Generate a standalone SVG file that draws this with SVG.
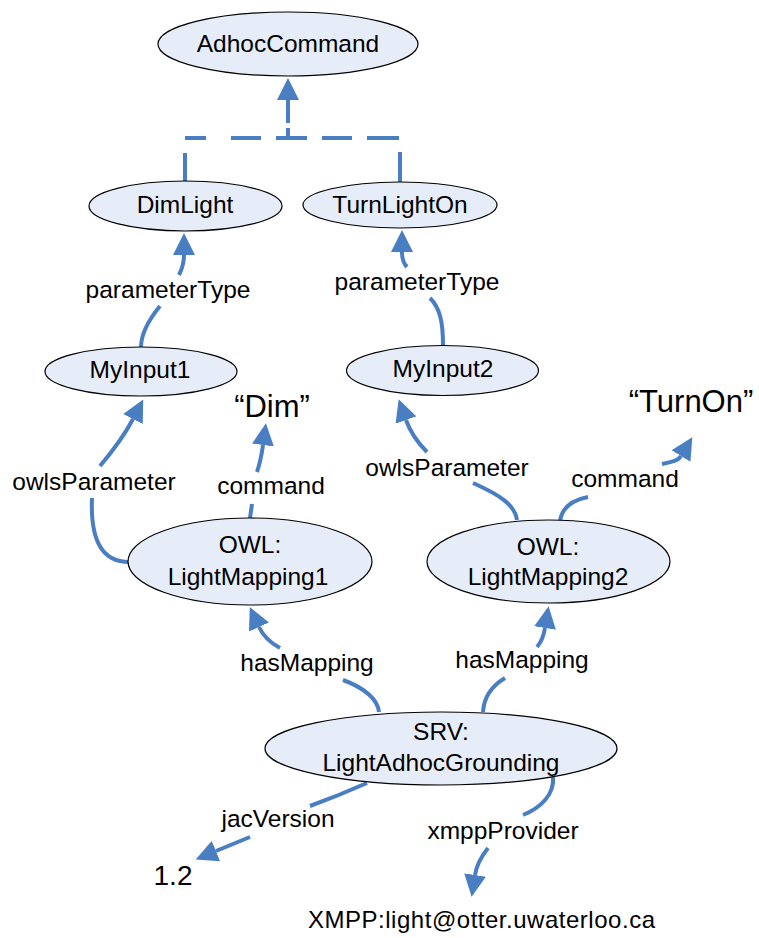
<svg xmlns="http://www.w3.org/2000/svg" width="759" height="938" viewBox="0 0 759 938">
<style>
.node ellipse{fill:#E7EDF8;stroke:#000;stroke-width:1.2}
text{font-family:"Liberation Sans",Arial,sans-serif;font-size:24.5px;fill:#000;text-anchor:middle}
.lit{font-size:31px}
.conn path{fill:none;stroke:#4A7EC2;stroke-width:4}
.arr{marker-end:url(#ah)}
</style>
<defs>
<marker id="ah" viewBox="0 0 22 22" refX="0" refY="11" markerWidth="22" markerHeight="22" markerUnits="userSpaceOnUse" orient="auto">
<path d="M0,0 L22,11 L0,22 z" fill="#4A7EC2"/>
</marker>
</defs>
<rect width="759" height="938" fill="#fff"/>
<g id="connectors" class="conn">
<path d="M185,183 V138 H400 V183" stroke-dasharray="30 15 21 25 30 15 31 15 30 15 32 15 30"/>
<path d="M288,138 V128"/>
<path class="arr" d="M288,123 V100"/>
<path class="arr" d="M179,275 Q184,265 184,255"/>
<path d="M160,306 C147,322 141,335 141,347"/>
<path class="arr" d="M407,267 Q402,262 402,252"/>
<path d="M430,298 C440,308 443,322 443,345"/>
<path class="arr" d="M100,466 Q122,440 133,419"/>
<path d="M92,498 C90,545 105,562 129,562"/>
<path class="arr" d="M257,472 Q261,460 263,445"/>
<path d="M250,518 L252,504"/>
<path class="arr" d="M427,452 Q412,437 406,420"/>
<path d="M473,483 C500,495 515,505 517,520"/>
<path d="M560,521 C562,508 572,500 588,497"/>
<path class="arr" d="M662,464 C672,462 678,461 681,456"/>
<path class="arr" d="M280,648 Q265,640 259,627"/>
<path d="M343,680 C365,688 378,700 379,712"/>
<path d="M483,712 C484,695 495,684 505,678"/>
<path class="arr" d="M537,647 Q543,640 545,628"/>
<path d="M367,783 Q340,795 310,806"/>
<path class="arr" d="M250,837 L216,851"/>
<path d="M553,776 C555,795 540,808 523,815"/>
<path class="arr" d="M488,848 Q477,862 475,875"/>
</g>
<g id="edge-labels">
<text x="168" y="298">parameterType</text>
<text x="417" y="290">parameterType</text>
<text x="94" y="490">owlsParameter</text>
<text x="447" y="476">owlsParameter</text>
<text x="271" y="494">command</text>
<text x="625" y="487">command</text>
<text x="307" y="671">hasMapping</text>
<text x="522" y="668">hasMapping</text>
<text x="278" y="827">jacVersion</text>
<text x="503" y="839">xmppProvider</text>
</g>
<g id="n-adhoc" class="node"><ellipse cx="288" cy="44" rx="130" ry="32"/><text x="288" y="52">AdhocCommand</text></g>
<g id="n-dimlight" class="node"><ellipse cx="185.5" cy="206" rx="96.5" ry="25"/><text x="185" y="213">DimLight</text></g>
<g id="n-turnlighton" class="node"><ellipse cx="400" cy="205" rx="97" ry="23"/><text x="400" y="213">TurnLightOn</text></g>
<g id="n-myinput1" class="node"><ellipse cx="141" cy="371.5" rx="96" ry="24.5"/><text x="140" y="378">MyInput1</text></g>
<g id="n-myinput2" class="node"><ellipse cx="442.5" cy="370.5" rx="96" ry="25"/><text x="443" y="377">MyInput2</text></g>
<g id="n-lm1" class="node"><ellipse cx="250" cy="561.5" rx="122" ry="43.5"/><text x="250" y="553">OWL:</text><text x="248" y="585">LightMapping1</text></g>
<g id="n-lm2" class="node"><ellipse cx="548.5" cy="561.5" rx="121.5" ry="41.5"/><text x="548" y="555">OWL:</text><text x="548" y="585">LightMapping2</text></g>
<g id="n-srv" class="node"><ellipse cx="441" cy="748.5" rx="176" ry="36.5"/><text x="441" y="740">SRV:</text><text x="441" y="771">LightAdhocGrounding</text></g>
<g id="n-dim"><text class="lit" x="272" y="417">“Dim”</text></g>
<g id="n-turnon"><text class="lit" x="691" y="412">“TurnOn”</text></g>
<g id="n-version"><text x="173" y="885" style="font-size:28px">1.2</text></g>
<g id="n-xmpp"><text x="481.5" y="928" style="font-size:24px" textLength="347" lengthAdjust="spacing">XMPP:light@otter.uwaterloo.ca</text></g>
</svg>
